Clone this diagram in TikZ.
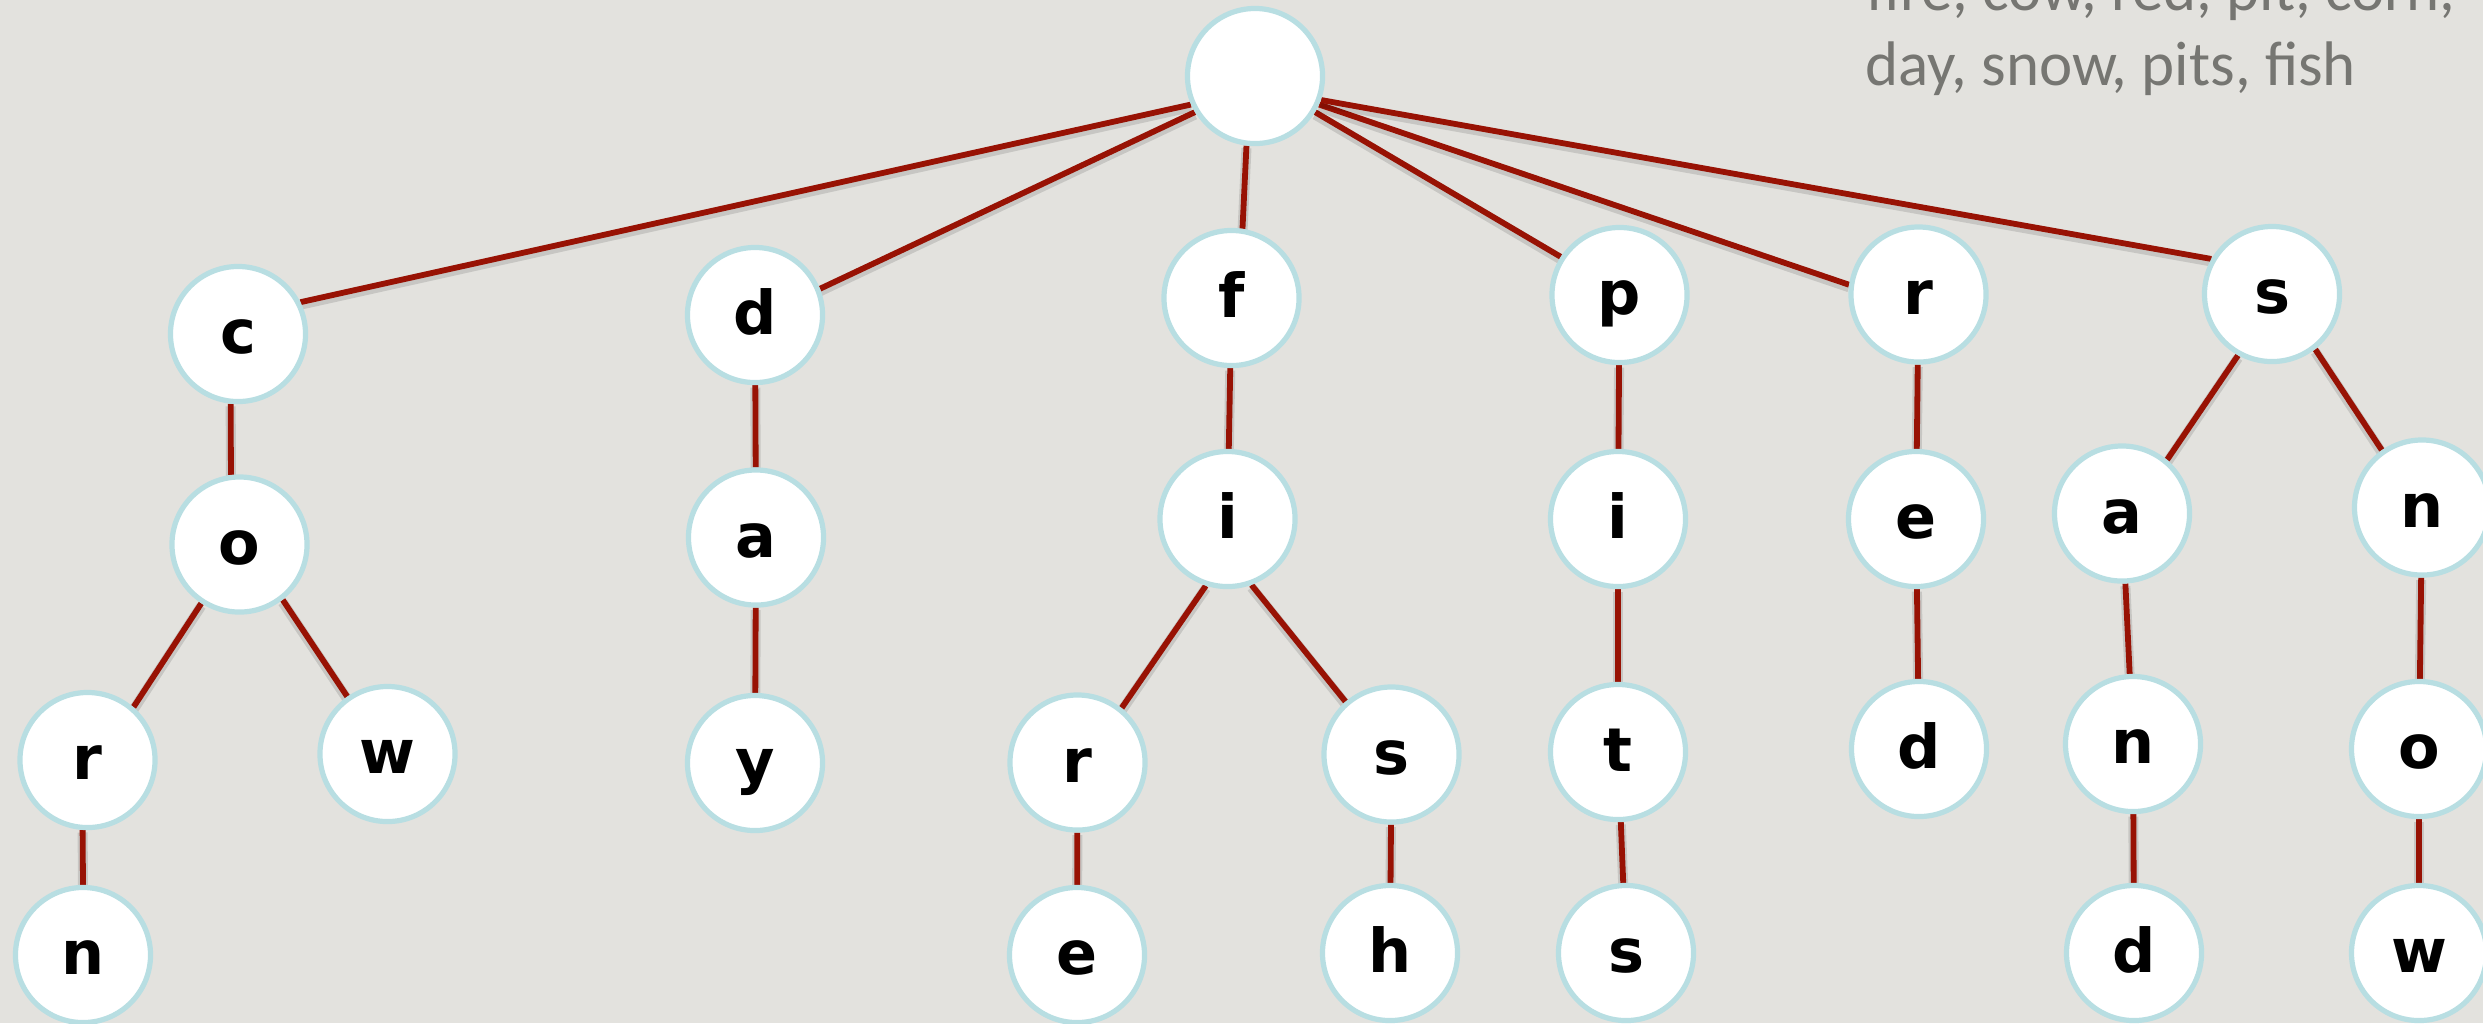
\documentclass[tikz,border=0pt]{standalone}
\usepackage{fontspec}
\newfontfamily\letterfont{DejaVu Sans}
\newfontfamily\notefont{Carlito}

\definecolor{paper}{RGB}{227,226,222}
\definecolor{edgered}{RGB}{152,18,4}
\definecolor{ringblue}{RGB}{184,222,226}
\definecolor{notegray}{RGB}{118,118,114}

\pgfdeclarelayer{back}
\pgfdeclarelayer{edges}
\pgfsetlayers{back,edges,main}

\tikzset{
  letter/.style={circle, draw=ringblue, line width=0.052cm, fill=white,
    minimum size=1.35cm, inner sep=0pt,
    font=\letterfont\bfseries\fontsize{17.2}{17.2}\selectfont,
    text height=0.45cm, text depth=0.06cm},
  link/.style={draw=edgered, line width=0.058cm,
    preaction={draw=black, draw opacity=0.12, line width=0.1cm,
      transform canvas={yshift=-0.025cm}}},
  note/.style={anchor=base west, inner sep=0pt, text=notegray,
    font=\notefont\fontsize{17.9}{21}\selectfont}
}

\begin{document}
\begin{tikzpicture}[x=0.01cm, y=-0.01cm]
  \useasboundingbox (0,0) rectangle (2483,1023);
  \begin{pgfonlayer}{back}
    \fill[paper] (0,0) rectangle (2483,1023);
  \end{pgfonlayer}
  \clip (0,0) rectangle (2483,1023);

  % word list
  \node[note] (line1) at (1866,10) {fire, cow, red, pit, corn,};
  \node[note] (line2) at (1865,85) {day, snow, pits, fish};

  % root
  \node[letter] (root) at (1255,76) {};

  % first letters
  \node[letter] (c) at (238,334) {c};
  \node[letter] (d) at (755,315) {d};
  \node[letter] (f) at (1231.5,298) {f};
  \node[letter] (p) at (1619.5,295) {p};
  \node[letter] (r) at (1918.5,294.5) {r};
  \node[letter] (s) at (2272,294) {s};

  % c branch
  \node[letter] (co) at (239.5,544.5) {o};
  \node[letter] (cor) at (87.5,760) {r};
  \node[letter] (corn) at (83,955) {n};
  \node[letter] (cow) at (387.5,754) {w};

  % d branch
  \node[letter] (da) at (756,537.5) {a};
  \node[letter] (day) at (755,763) {y};

  % f branch
  \node[letter] (fi) at (1227.5,519) {i};
  \node[letter] (fir) at (1077.5,762.5) {r};
  \node[letter] (fire) at (1077,955) {e};
  \node[letter] (fis) at (1391.5,754.5) {s};
  \node[letter] (fish) at (1390,953) {h};

  % p branch
  \node[letter] (pi) at (1618,519) {i};
  \node[letter] (pit) at (1618,752) {t};
  \node[letter] (pits) at (1626,953) {s};

  % r branch
  \node[letter] (re) at (1916,519) {e};
  \node[letter] (red) at (1919,749) {d};

  % s branch
  \node[letter] (sa) at (2122,513.5) {a};
  \node[letter] (san) at (2133,744) {n};
  \node[letter] (sand) at (2134,953) {d};
  \node[letter] (sn) at (2422,507.5) {n};
  \node[letter] (sno) at (2419,749) {o};
  \node[letter] (snow) at (2419,953) {w};

  \begin{pgfonlayer}{edges}
    % from the root
    \draw[link] (root.204) -- (c.27);
    \draw[link] (root.211) -- (d.22);
    \draw[link] (root.263) -- (f.81);
    \draw[link] (root.329) -- (p.147);
    \draw[link] (root.336) -- (r.172);
    \draw[link] (root.340) -- (s.150);
    % c branch
    \draw[link] (c.264) -- (co.97);
    \draw[link] (co.237) -- (cor.49);
    \draw[link] (co.308) -- (cow.125);
    \draw[link] (cor.266) -- (corn.90);
    % d branch
    \draw[link] (d) -- (da);
    \draw[link] (da) -- (day);
    % f branch
    \draw[link] (f) -- (fi);
    \draw[link] (fi.252) -- (fir.51);
    \draw[link] (fi.290) -- (fis.131);
    \draw[link] (fir) -- (fire);
    \draw[link] (fis) -- (fish);
    % p branch
    \draw[link] (p) -- (pi);
    \draw[link] (pi) -- (pit);
    \draw[link] (pit) -- (pits);
    % r branch
    \draw[link] (r) -- (re);
    \draw[link] (re) -- (red);
    % s branch
    \draw[link] (s.241) -- (sa.50);
    \draw[link] (s.308) -- (sn.125);
    \draw[link] (sa) -- (san);
    \draw[link] (san) -- (sand);
    \draw[link] (sn) -- (sno);
    \draw[link] (sno) -- (snow);
  \end{pgfonlayer}
\end{tikzpicture}
\end{document}
